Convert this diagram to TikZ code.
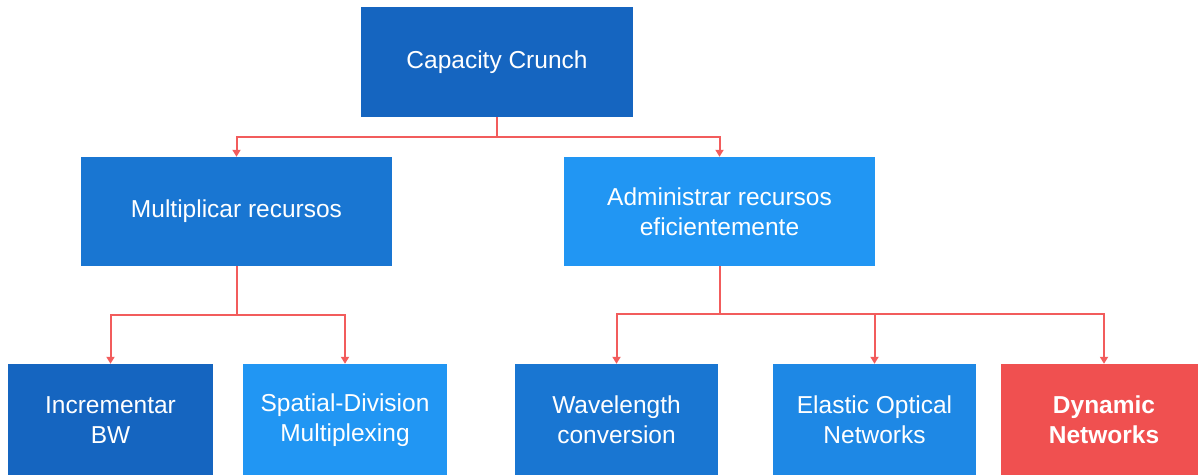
\documentclass[tikz,border=0pt]{standalone}
\usepackage{fontspec}
\setmainfont{Liberation Sans}
\usetikzlibrary{arrows.meta}
\definecolor{cA}{HTML}{1565C0}
\definecolor{cB}{HTML}{1976D2}
\definecolor{cC}{HTML}{2196F3}
\definecolor{cD}{HTML}{1E88E5}
\definecolor{cR}{HTML}{F05050}
\definecolor{cL}{HTML}{F25C5C}
\tikzset{
  box/.style={rectangle, inner sep=0pt, text=white, align=center,
    font=\fontsize{24.5}{30}\selectfont},
  conn/.style={draw=cL, line width=2pt},
  arr/.style={conn, -{Triangle[width=8pt,length=7pt]}},
}
\begin{document}
\begin{tikzpicture}[x=1pt,y=-1pt]
\useasboundingbox (0,0) rectangle (1198,474);
\begin{scope}
\clip (0,0) rectangle (1198,474);
\node[box, fill=cA, minimum width=272pt, minimum height=110pt] (cc) at (497,62) {Capacity Crunch};
\node[box, fill=cB, minimum width=311pt, minimum height=109pt] (mr) at (236.5,211.5) {Multiplicar recursos};
\node[box, fill=cC, minimum width=311pt, minimum height=109pt] (ar) at (719.5,211.5) {Administrar recursos\\eficientemente};
\node[box, fill=cA, minimum width=205pt, minimum height=112pt] (ib) at (110.5,420) {Incrementar\\BW};
\node[box, fill=cC, minimum width=204pt, minimum height=112pt] (sd) at (345,420) {Spatial-Division\\Multiplexing};
\node[box, fill=cB, minimum width=203pt, minimum height=112pt] (wc) at (616.5,420) {Wavelength\\conversion};
\node[box, fill=cD, minimum width=203pt, minimum height=112pt] (eo) at (874.5,420) {Elastic Optical\\Networks};
\node[box, fill=cR, minimum width=206pt, minimum height=112pt, font=\fontsize{24.5}{30}\selectfont\bfseries] (dn) at (1104,420) {Dynamic\\Networks};
\end{scope}
\coordinate (b1) at (497,137);
\coordinate (b2) at (236.5,315);
\coordinate (b3) at (719.5,314);
\draw[conn] (cc.south) -- (b1);
\draw[arr] (b1) -| (mr.north);
\draw[arr] (b1) -| (ar.north);
\draw[conn] (mr.south) -- (b2);
\draw[arr] (b2) -| (ib.north);
\draw[arr] (b2) -| (sd.north);
\draw[conn] (ar.south) -- (b3);
\draw[arr] (b3) -| (wc.north);
\draw[arr] (b3) -| (eo.north);
\draw[arr] (b3) -| (dn.north);
\end{tikzpicture}
\end{document}
